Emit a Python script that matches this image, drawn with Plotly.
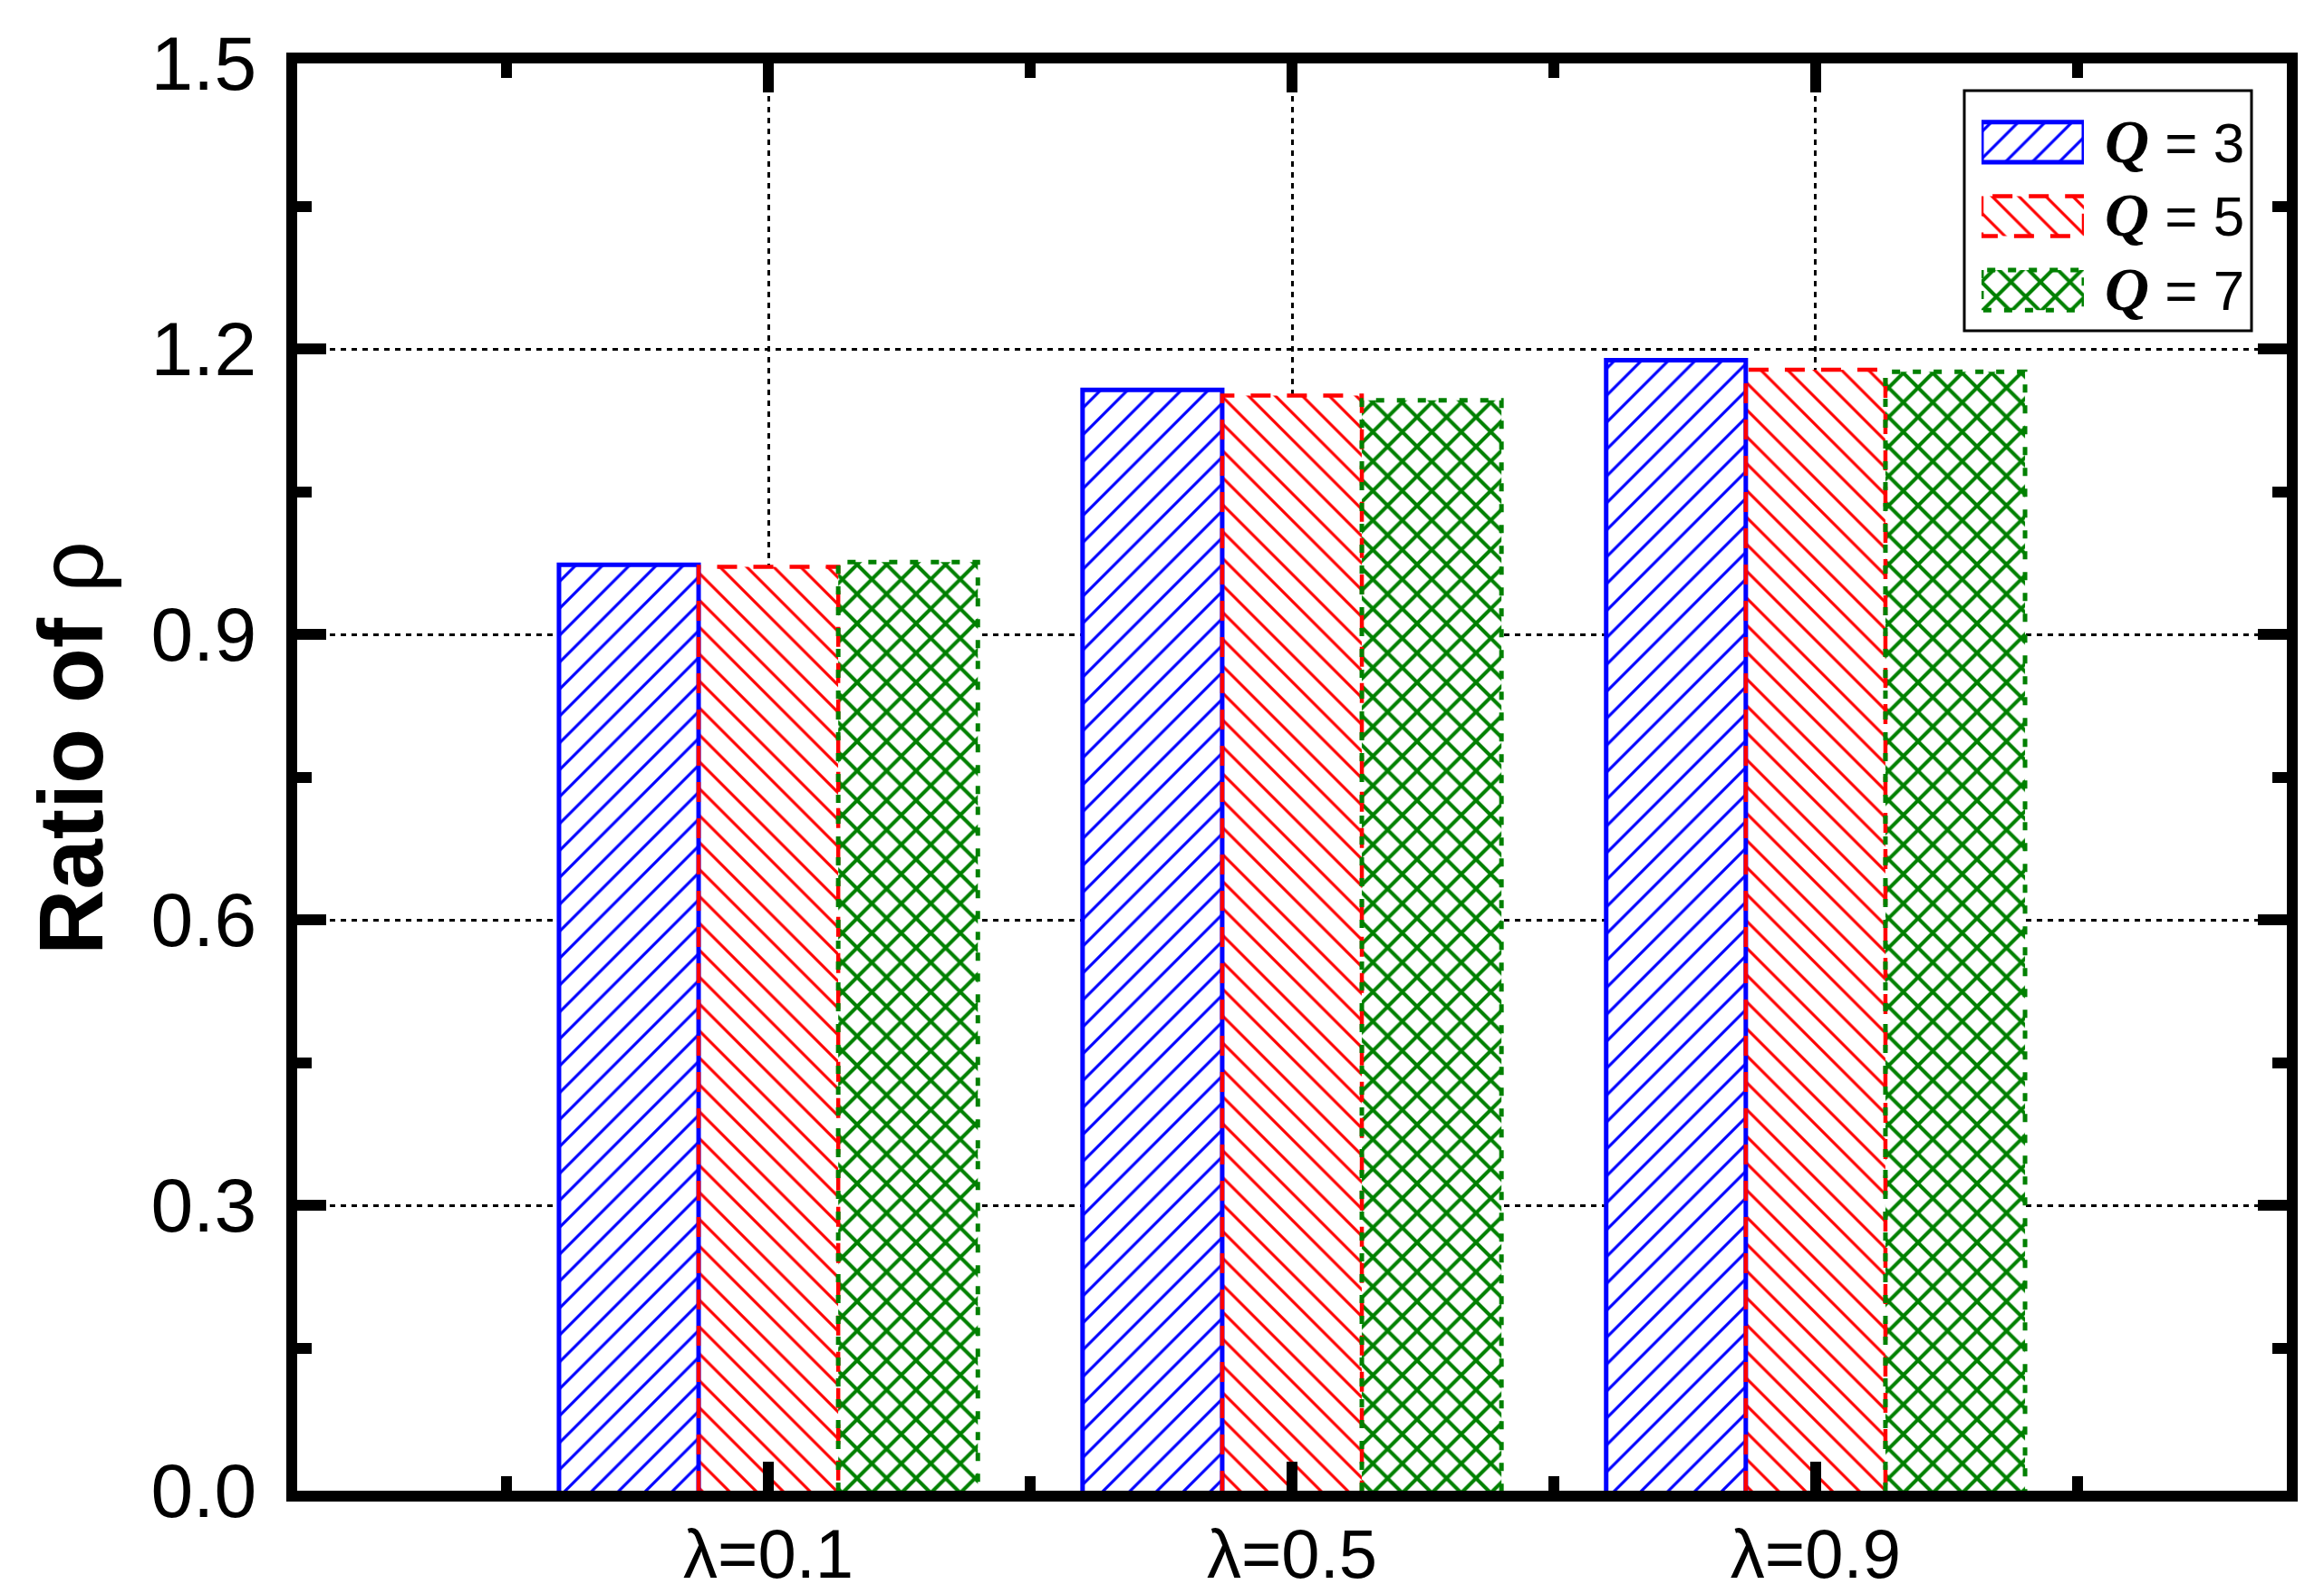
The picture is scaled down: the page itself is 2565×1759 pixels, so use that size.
import plotly.graph_objects as go

# data
categories = ["λ=0.1", "λ=0.5", "λ=0.9"]
series_labels = ["Q = 3", "Q = 5", "Q = 7"]
q3_values = [0.973, 1.157, 1.188]
q5_values = [0.971, 1.151, 1.178]
q7_values = [0.976, 1.146, 1.176]
y_ticks = [0.0, 0.3, 0.6, 0.9, 1.2, 1.5]

W, H = 2565, 1759
L, R, T, B = 328, 41, 70, 114
PW, PH = W - L - R, H - T - B
BAR_W = 0.8 / 3
SANS = "Liberation Sans, Arial, sans-serif"

styles = [
    dict(color="blue", shape="/", size=21, solidity=0.15, width=5, dash="solid"),
    dict(color="red", shape="\\", size=21, solidity=0.15, width=4.5, dash="22px,18px"),
    dict(color="green", shape="x", size=23, solidity=0.32, width=5, dash="9px,14px"),
]


def px_x(px):
    return (px - L) / PW


def px_y(py):
    return (H - B - py) / PH


def pattern(st):
    return dict(shape=st["shape"], fgcolor=st["color"], bgcolor="white",
                size=st["size"], solidity=st["solidity"], fillmode="replace")


def legend_label(text):
    name, rest = text.split(" ", 1)
    return ("<span style=\"font-family:'Liberation Serif', 'Times New Roman', serif; font-size:68px\">"
            "<b><i>%s</i></b></span> %s" % (name, rest))


fig = go.Figure()
all_values = [q3_values, q5_values, q7_values]

# bars
for k, (vals, st) in enumerate(zip(all_values, styles)):
    xs = [i + (k - 1) * BAR_W for i in range(len(categories))]
    fig.add_trace(go.Bar(x=xs, y=vals, width=BAR_W, name=series_labels[k],
                         marker=dict(color="white", line=dict(width=0), pattern=pattern(st)),
                         showlegend=False))

# bar outlines (solid / dashed / dotted like the original)
for k, (vals, st) in enumerate(zip(all_values, styles)):
    ox, oy = [], []
    for i, v in enumerate(vals):
        x0 = i + (k - 1) * BAR_W - BAR_W / 2
        x1 = x0 + BAR_W
        ox += [x0, x0, x1, x1, None]
        oy += [0, v, v, 0, None]
    fig.add_trace(go.Scatter(x=ox, y=oy, mode="lines", showlegend=False, hoverinfo="skip",
                             line=dict(color=st["color"], width=st["width"], dash=st["dash"])))

# legend swatches drawn on a small inset axis
SW_H = 0.54
for k, st in enumerate(styles):
    fig.add_trace(go.Bar(x=[1], y=[k], base=0, width=SW_H, orientation="h",
                         xaxis="x2", yaxis="y2", showlegend=False, hoverinfo="skip",
                         marker=dict(color="white", line=dict(width=0), pattern=pattern(st))))
    fig.add_trace(go.Scatter(x=[0, 0, 1, 1, 0], y=[k - SW_H / 2, k + SW_H / 2, k + SW_H / 2, k - SW_H / 2, k - SW_H / 2],
                             xaxis="x2", yaxis="y2", mode="lines", cliponaxis=False,
                             showlegend=False, hoverinfo="skip",
                             line=dict(color=st["color"], width=st["width"], dash=st["dash"])))

axis_common = dict(
    showline=True, linecolor="black", linewidth=12, mirror="allticks",
    ticks="inside", ticklen=32, tickwidth=12, tickcolor="black",
    showgrid=True, gridcolor="black", gridwidth=2.5, griddash="6px,6px",
    zeroline=False, automargin=False,
    tickfont=dict(family=SANS, size=84, color="black"),
)

fig.update_layout(
    width=W, height=H,
    margin=dict(l=L, r=R, t=T, b=B, pad=0),
    paper_bgcolor="white", plot_bgcolor="white",
    barmode="overlay",
    showlegend=False,
    xaxis=dict(axis_common, range=[-0.9, len(categories) - 0.1],
               tickmode="array", tickvals=list(range(len(categories))), ticktext=categories,
               tickfont=dict(family=SANS, size=76, color="black"),
               ticklabelstandoff=-7,
               minor=dict(tickmode="array", tickvals=[i + 0.5 for i in range(-1, len(categories))],
                          ticks="inside", ticklen=16, tickwidth=12, tickcolor="black", showgrid=False)),
    yaxis=dict(axis_common, range=[0, 1.5], tickmode="array", tickvals=y_ticks,
               ticktext=["%.1f" % v for v in y_ticks], ticklabelstandoff=16,
               minor=dict(dtick=0.15, tick0=0, ticks="inside", ticklen=16, tickwidth=12,
                          tickcolor="black", showgrid=False)),
    xaxis2=dict(domain=[px_x(2187), px_x(2300)], anchor="y2", range=[0, 1],
                visible=False, fixedrange=True, automargin=False),
    yaxis2=dict(domain=[px_y(361), px_y(116)], anchor="x2", range=[2.5, -0.5],
                side="right", tickmode="array", tickvals=[0, 1, 2],
                ticktext=[legend_label(s) for s in series_labels],
                showline=False, showgrid=False, zeroline=False, ticks="",
                ticklabelstandoff=22, fixedrange=True, automargin=False,
                tickfont=dict(family=SANS, size=62, color="black")),
    shapes=[dict(type="rect", xref="paper", yref="paper", layer="below",
                 x0=px_x(2168), x1=px_x(2485), y0=px_y(365), y1=px_y(100),
                 line=dict(color="black", width=3), fillcolor="white")],
    annotations=[dict(text="<b>Ratio of </b>ρ", textangle=-90, showarrow=False,
                      xref="paper", yref="paper", x=px_x(78), y=px_y(826),
                      xanchor="center", yanchor="middle",
                      font=dict(family=SANS, size=100, color="black"))],
)

# the page body has a default 8px margin; drop it so the figure fills the window exactly
fig.write_html("out.html", config={"displayModeBar": False},
               post_script="document.body.style.margin='0';")
